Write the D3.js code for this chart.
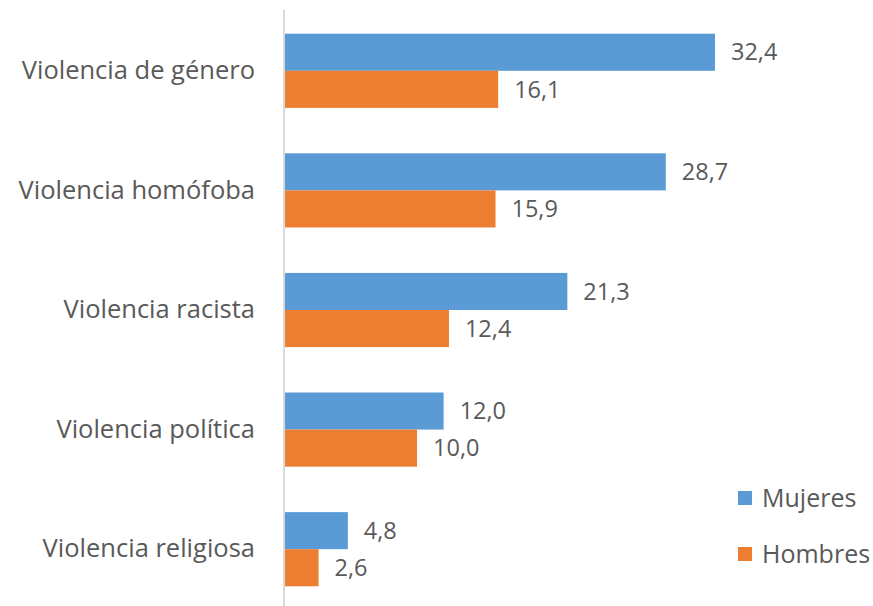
<!DOCTYPE html>
<html>
<head>
<meta charset="utf-8">
<script src="https://cdn.jsdelivr.net/npm/d3@7"></script>
<style>
  body { margin: 0; background: #fff; }
  text { font-family: "Open Sans", "Noto Sans", sans-serif; fill: #595959; }
</style>
</head>
<body>
<div id="chart"></div>
<script>
// Data
var categories = ["Violencia de género", "Violencia homófoba", "Violencia racista",
                  "Violencia política", "Violencia religiosa"];
var series     = ["Mujeres", "Hombres"];
var mujeres    = [32.4, 28.7, 21.3, 12.0, 4.8];
var hombres    = [16.1, 15.9, 12.4, 10.0, 2.6];
var colors     = ["#5B9BD5", "#ED7D31"];

var width = 873, height = 606;

var svg = d3.select("#chart")
  .append("svg")
    .attr("width", width)
    .attr("height", height);

// Scales
var x = d3.scaleLinear()
  .domain([0, 32.4])
  .range([284, 715]);

var y = d3.scaleBand()
  .domain(categories)
  .range([11, 609])
  .paddingInner(0.38)
  .paddingOuter(0.19);

var ySub = d3.scaleBand()
  .domain(series)
  .range([0, y.bandwidth()]);

var rows = categories.map(function(c, i) {
  return { cat: c, values: [mujeres[i], hombres[i]] };
});

// Bars
var groups = svg.selectAll(".group")
  .data(rows)
  .enter()
  .append("g")
    .attr("class", "group")
    .attr("transform", function(d) { return "translate(0," + y(d.cat) + ")"; });

groups.selectAll("rect")
  .data(function(d) { return d.values.map(function(v, j) { return { s: series[j], v: v, j: j }; }); })
  .enter()
  .append("rect")
    .attr("x", x(0))
    .attr("y", function(d) { return ySub(d.s); })
    .attr("width", function(d) { return x(d.v) - x(0); })
    .attr("height", ySub.bandwidth())
    .attr("fill", function(d) { return colors[d.j]; });

// Value labels
groups.selectAll(".val")
  .data(function(d) { return d.values.map(function(v, j) { return { s: series[j], v: v }; }); })
  .enter()
  .append("text")
    .attr("class", "val")
    .attr("x", function(d) { return x(d.v) + 16; })
    .attr("y", function(d) { return ySub(d.s) + ySub.bandwidth() / 2; })
    .attr("dy", "0.35em")
    .attr("font-size", "23.5px")
    .text(function(d) { return d.v.toFixed(1).replace(".", ","); });

// Axis line + category labels
var yAxis = d3.axisLeft(y).tickSize(0).tickPadding(29);
var axisG = svg.append("g")
  .attr("transform", "translate(" + x(0) + ",0)")
  .call(yAxis);
axisG.select(".domain")
  .attr("d", "M0,10V606")
  .attr("stroke", "#d9d9d9")
  .attr("stroke-width", 2);
axisG.selectAll(".tick text")
  .attr("font-size", "25.5px")
  .attr("font-family", null)
  .style("fill", "#595959");

// Legend
var legend = svg.selectAll(".legend")
  .data(series)
  .enter()
  .append("g")
    .attr("class", "legend")
    .attr("transform", function(d, i) { return "translate(738," + (498 + i * 56) + ")"; });

legend.append("rect")
  .attr("x", 0)
  .attr("y", -7)
  .attr("width", 14)
  .attr("height", 14)
  .attr("fill", function(d, i) { return colors[i]; });

legend.append("text")
  .attr("x", 24)
  .attr("dy", "0.35em")
  .attr("font-size", "25px")
  .text(function(d) { return d; });
</script>
</body>
</html>
